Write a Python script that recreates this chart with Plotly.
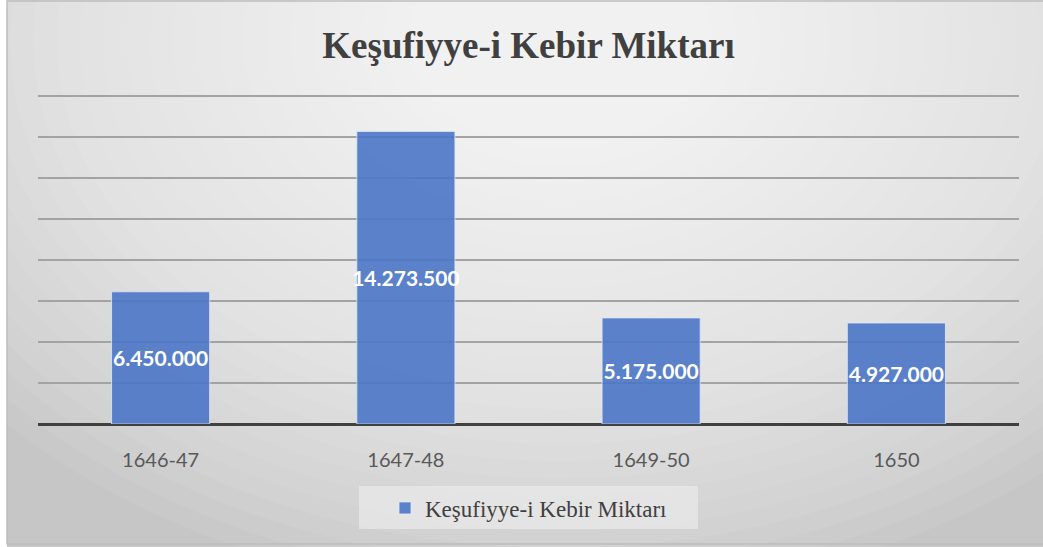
import plotly.graph_objects as go

# data
categories = ["1646-47", "1647-48", "1649-50", "1650"]
values = [6450000, 14273500, 5175000, 4927000]
series_name = "Keşufiyye-i Kebir Miktarı"
title_text = "Keşufiyye-i Kebir Miktarı"

W, H = 1043, 547
ML, MR, MT, MB = 38, 24, 94, 123
PW, PH = W - ML - MR, H - MT - MB


def px(x):
    return (x - ML) / PW


def py(y):
    return (H - MB - y) / PH


fig = go.Figure()
fig.add_trace(go.Bar(
    x=categories,
    y=values,
    name=series_name,
    marker=dict(color="rgba(74,117,199,0.9)", line=dict(color="rgba(225,232,245,0.8)", width=1)),
    texttemplate="%{y:,}",
    textposition="inside",
    insidetextanchor="middle",
    textangle=0,
    constraintext="none",
    textfont=dict(family="Lato", size=21, color="white", weight="bold"),
    hoverinfo="x+y",
))

# background: radial-ish gradient made of stacked white ellipses
shapes = [dict(type="rect", xref="paper", yref="paper", x0=px(-5), x1=px(7), y0=py(-5), y1=py(H + 5),
               fillcolor="white", line_width=0, layer="below")]
n = 30
cx, cy = 560, 40
for i in range(n):
    f = 1 - i / n
    rx = 60 + 700 * f
    ry = 40 + 520 * f
    shapes.append(dict(type="circle", xref="paper", yref="paper",
                       x0=px(cx - rx), x1=px(cx + rx), y0=py(cy + ry), y1=py(cy - ry),
                       fillcolor="white", opacity=0.064, line_width=0, layer="below"))
# chart border
shapes.append(dict(type="rect", xref="paper", yref="paper", x0=px(7), x1=px(W + 5), y0=py(544), y1=py(1),
                   line=dict(color="#bdbdbd", width=1.5), fillcolor="rgba(0,0,0,0)", layer="below"))
# legend box
shapes.append(dict(type="rect", xref="paper", yref="paper", x0=px(359), x1=px(698), y0=py(529), y1=py(486),
                   line_width=0, fillcolor="rgba(240,240,240,0.55)", layer="below"))

fig.update_layout(
    width=W, height=H,
    margin=dict(l=ML, r=MR, t=MT, b=MB),
    paper_bgcolor="#c6c6c6",
    plot_bgcolor="rgba(0,0,0,0)",
    separators=",.",
    bargap=0.6,
    shapes=shapes,
    title=dict(text="<b>" + title_text + "</b>", x=0.5, xref="paper", y=1 - 45 / H, yanchor="middle",
               font=dict(family="Liberation Serif", size=37, color="#404040")),
    xaxis=dict(showgrid=False, showline=False, ticks="", ticklabelstandoff=22,
               tickfont=dict(family="Lato", size=20, color="#595959")),
    yaxis=dict(range=[0, 16100000], dtick=2000000, showticklabels=False, ticks="",
               showgrid=True, gridcolor="#a3a3a3", gridwidth=1.5,
               zeroline=True, zerolinecolor="#404040", zerolinewidth=3),
    showlegend=True,
    legend=dict(orientation="h", x=0.5, xanchor="center", y=py(508), yanchor="middle",
                bgcolor="rgba(0,0,0,0)", font=dict(family="Liberation Serif", size=23, color="#404040"),
                itemwidth=30),
)

fig.write_html("out.html", config={"displayModeBar": False},
               post_script="document.body.style.margin='0';")
